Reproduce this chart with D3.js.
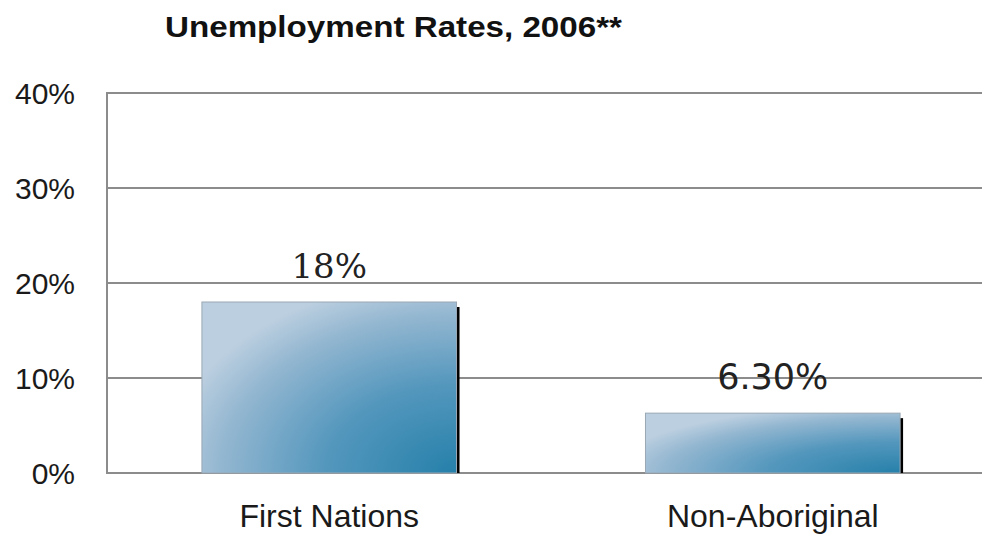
<!DOCTYPE html>
<html><head><meta charset="utf-8">
<script src="https://cdn.jsdelivr.net/npm/d3@7"></script>
<style>body{margin:0;background:#fff}svg{display:block}</style>
</head><body>
<script>
const categories = ["First Nations", "Non-Aboriginal"];
const values = [18, 6.3];
const valueLabels = ["18%", "6.30%"];
const yTicks = [0, 10, 20, 30, 40];
const title = "Unemployment Rates, 2006**";

const W = 982, H = 540;
const margin = {left: 107, right: 0, top: 93, bottom: 67};
const svg = d3.select("body").append("svg").attr("width", W).attr("height", H);

const defs = svg.append("defs");
const grad = defs.append("radialGradient").attr("id", "barGrad")
  .attr("cx", 1).attr("cy", 1).attr("r", 1.15).attr("fx", 1).attr("fy", 1);
grad.append("stop").attr("offset", "0%").attr("stop-color", "#2580aa");
grad.append("stop").attr("offset", "45%").attr("stop-color", "#5497bd");
grad.append("stop").attr("offset", "80%").attr("stop-color", "#92b6d0");
grad.append("stop").attr("offset", "100%").attr("stop-color", "#bccfe0");

const y = d3.scaleLinear().domain([0, 40]).range([H - margin.bottom, margin.top]);
const x = d3.scaleBand().domain(categories).range([margin.left, 995]).paddingInner(0.426).paddingOuter(0.214);

// gridlines
svg.append("g").selectAll("line").data(yTicks).join("line")
  .attr("x1", margin.left).attr("x2", W)
  .attr("y1", d => y(d)).attr("y2", d => y(d))
  .attr("stroke", "#8c8c8c").attr("stroke-width", 2);
// left axis line
svg.append("line").attr("x1", margin.left).attr("x2", margin.left)
  .attr("y1", y(40) - 1).attr("y2", y(0) + 1)
  .attr("stroke", "#8c8c8c").attr("stroke-width", 2);

// y tick labels
svg.append("g").selectAll("text").data(yTicks).join("text")
  .attr("x", 75).attr("y", d => y(d) + 11)
  .attr("text-anchor", "end")
  .attr("font-family", "Liberation Sans, Arial, sans-serif")
  .attr("font-size", 30).attr("fill", "#1a1a1a")
  .text(d => d + "%");

// shadows
svg.append("g").selectAll("rect").data(values).join("rect")
  .attr("x", (d, i) => x(categories[i]) + x.bandwidth())
  .attr("width", 3)
  .attr("y", d => y(d) + 5)
  .attr("height", d => y(0) - y(d) - 5)
  .attr("fill", "#000");

// bars
svg.append("g").selectAll("rect").data(values).join("rect")
  .attr("x", (d, i) => x(categories[i]))
  .attr("width", x.bandwidth())
  .attr("y", d => y(d))
  .attr("height", d => y(0) - y(d))
  .attr("fill", "url(#barGrad)")
  .attr("stroke", "#9aa8b4").attr("stroke-width", 1);

// value labels
svg.append("g").selectAll("text").data(values).join("text")
  .attr("x", (d, i) => x(categories[i]) + x.bandwidth() / 2)
  .attr("y", d => y(d) - 24)
  .attr("text-anchor", "middle")
  .attr("font-family", (d, i) => i === 0 ? "DejaVu Serif, serif" : "DejaVu Sans, sans-serif")
  .attr("font-size", (d, i) => i === 0 ? 34 : 35).attr("fill", "#222")
  .text((d, i) => valueLabels[i]);

// category labels
svg.append("g").selectAll("text").data(categories).join("text")
  .attr("x", d => x(d) + x.bandwidth() / 2)
  .attr("y", 527)
  .attr("text-anchor", "middle")
  .attr("font-family", "Liberation Sans, Arial, sans-serif")
  .attr("font-size", 32).attr("fill", "#1a1a1a")
  .text(d => d);

// title
svg.append("text").attr("x", 165).attr("y", 37)
  .attr("font-family", "Liberation Sans, Arial, sans-serif")
  .attr("font-weight", "bold").attr("font-size", 29).attr("fill", "#111")
  .attr("textLength", 457).attr("lengthAdjust", "spacingAndGlyphs")
  .text(title);
</script>
</body></html>
